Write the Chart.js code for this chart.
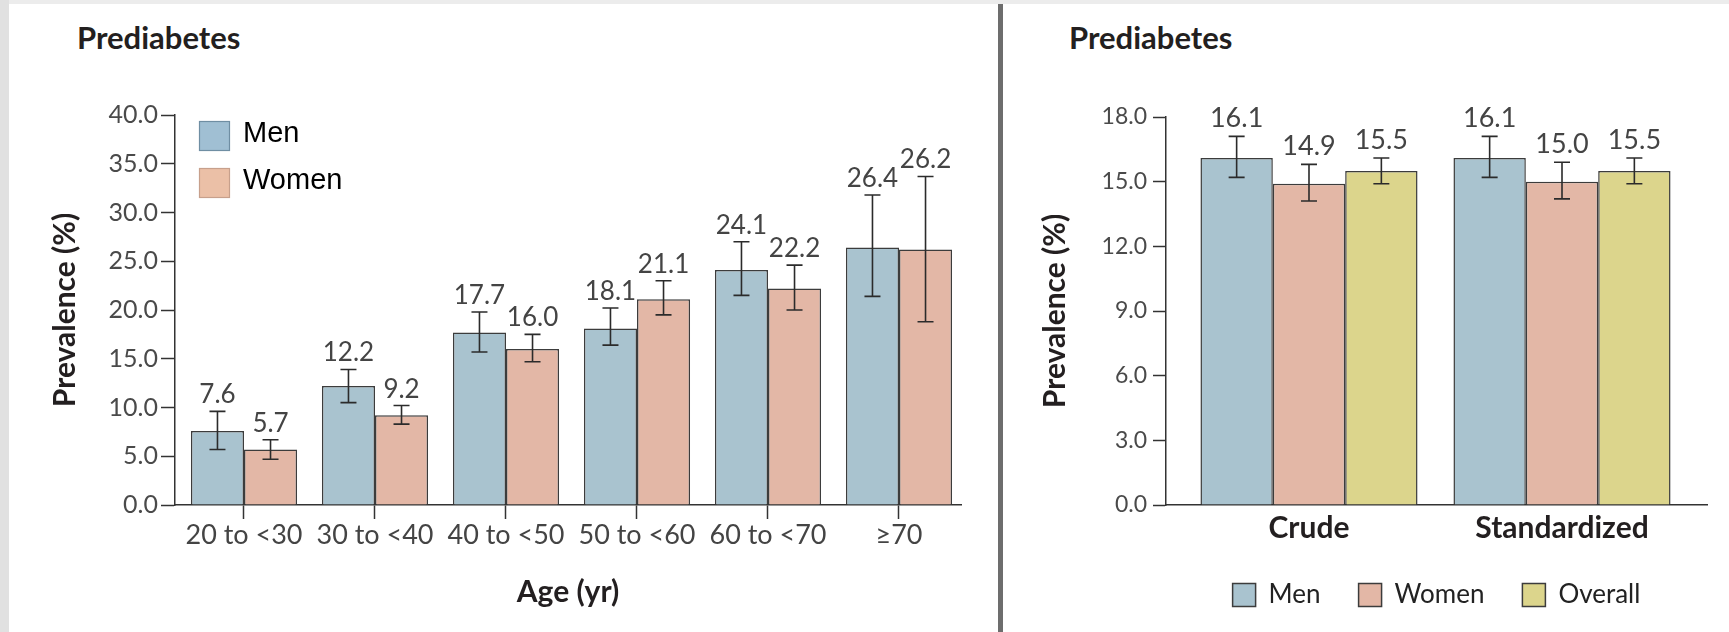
<!DOCTYPE html>
<html>
<head>
<meta charset="utf-8">
<title>Prediabetes prevalence</title>
<script src="https://cdn.jsdelivr.net/npm/chart.js@4.4.1/dist/chart.umd.min.js"></script>
<style>
  html, body { margin: 0; padding: 0; background: #fff; }
  #page { position: relative; width: 1729px; height: 632px; overflow: hidden; background: #fff; }
  .band-top { position: absolute; left: 0; top: 0; width: 1729px; height: 4px; background: #ececec; }
  .band-left { position: absolute; left: 0; top: 0; width: 9px; height: 632px; background: #e1e1e1; }
  .divider { position: absolute; left: 998px; top: 4px; width: 5px; height: 628px; background: #6d6d6d; }
  .panel-title { position: absolute; top: 22px; font: bold 31px Lato, "Open Sans", sans-serif; line-height: 31px; color: #231f20; white-space: nowrap; }
  canvas { position: absolute; top: 0; }
  #ageChart { left: 0; }
  #summaryChart { left: 1004px; }
</style>
</head>
<body>
<div id="page">
  <div class="band-top"></div>
  <div class="band-left"></div>
  <div class="divider"></div>
  <div class="panel-title" style="left:77px">Prediabetes</div>
  <div class="panel-title" style="left:1069px">Prediabetes</div>
  <canvas id="ageChart" width="996" height="632"></canvas>
  <canvas id="summaryChart" width="725" height="632"></canvas>
</div>
<script>
// ---- Age-specific prevalence (%), with 95% confidence limits ----
const ageGroups = ['20 to <30', '30 to <40', '40 to <50', '50 to <60', '60 to <70', '\u226570'];
const menPrev   = [7.6, 12.2, 17.7, 18.1, 24.1, 26.4];
const menLow    = [5.7, 10.5, 15.7, 16.4, 21.5, 21.4];
const menHigh   = [9.6, 13.9, 19.8, 20.2, 27.0, 31.8];
const womenPrev = [5.7, 9.2, 16.0, 21.1, 22.2, 26.2];
const womenLow  = [4.7, 8.3, 14.7, 19.5, 20.0, 18.8];
const womenHigh = [6.7, 10.2, 17.5, 23.0, 24.6, 33.7];
const ageTicks  = [0, 5, 10, 15, 20, 25, 30, 35, 40];

// ---- Crude and age-standardized prevalence (%) ----
const rateTypes    = ['Crude', 'Standardized'];
const allMen       = [16.1, 16.1];
const allMenLow    = [15.2, 15.2];
const allMenHigh   = [17.1, 17.1];
const allWomen     = [14.9, 15.0];
const allWomenLow  = [14.1, 14.2];
const allWomenHigh = [15.8, 15.9];
const overall      = [15.5, 15.5];
const overallLow   = [14.9, 14.9];
const overallHigh  = [16.1, 16.1];
const summaryTicks = [0, 3, 6, 9, 12, 15, 18];

const MEN_FILL = '#a9c3cf';
const WOMEN_FILL = '#e3b7a6';
const OVERALL_FILL = '#dcd58c';
const BAR_EDGE = '#3c3c3c';
const AXIS = '#333333';

Chart.defaults.font.family = 'Lato, "Open Sans", sans-serif';
Chart.defaults.color = '#444';
Chart.defaults.animation = false;

const points = arr => arr.map((v, i) => ({ x: i, y: v }));

// Confidence-interval whiskers with the point estimate written above them
const errorBars = {
  id: 'errorBars',
  afterDatasetsDraw(chart, _args, opts) {
    const { ctx } = chart;
    const yScale = chart.scales.y;
    ctx.save();
    chart.data.datasets.forEach((ds, di) => {
      const meta = chart.getDatasetMeta(di);
      meta.data.forEach((bar, i) => {
        const x = bar.x;
        const top = yScale.getPixelForValue(ds.high[i]);
        const bottom = yScale.getPixelForValue(ds.low[i]);
        const half = opts.capWidth / 2;
        ctx.strokeStyle = opts.color;
        ctx.lineWidth = opts.lineWidth;
        ctx.beginPath();
        ctx.moveTo(x, top); ctx.lineTo(x, bottom);
        ctx.moveTo(x - half, top); ctx.lineTo(x + half, top);
        ctx.moveTo(x - half, bottom); ctx.lineTo(x + half, bottom);
        ctx.stroke();
        ctx.fillStyle = opts.labelColor;
        ctx.font = opts.labelFont;
        ctx.textAlign = 'center';
        ctx.textBaseline = 'alphabetic';
        ctx.fillText(ds.data[i].y.toFixed(1), x, top - opts.labelGap);
      });
    });
    ctx.restore();
  }
};

// Small key in the upper-left corner of the plotting area
const cornerLegend = {
  id: 'cornerLegend',
  afterDraw(chart, _args, o) {
    const { ctx, chartArea } = chart;
    ctx.save();
    chart.data.datasets.forEach((ds, i) => {
      const x = chartArea.left + o.left;
      const y = chartArea.top + o.top + i * o.rowStep;
      ctx.fillStyle = o.fills[i];
      ctx.fillRect(x, y, o.boxW, o.boxH);
      ctx.strokeStyle = o.strokes[i];
      ctx.lineWidth = 1.2;
      ctx.strokeRect(x + 0.5, y + 0.5, o.boxW - 1, o.boxH - 1);
      ctx.fillStyle = o.color;
      ctx.font = o.font;
      ctx.textAlign = 'left';
      ctx.textBaseline = 'middle';
      ctx.fillText(ds.label, x + o.boxW + o.textGap, y + o.boxH / 2 - 2);
    });
    ctx.restore();
  }
};

const barStyle = { borderColor: BAR_EDGE, borderWidth: 1.5, categoryPercentage: 0.81, barPercentage: 1.0 };

new Chart(document.getElementById('ageChart'), {
  type: 'bar',
  data: {
    datasets: [
      Object.assign({ label: 'Men', data: points(menPrev), low: menLow, high: menHigh, backgroundColor: MEN_FILL }, barStyle),
      Object.assign({ label: 'Women', data: points(womenPrev), low: womenLow, high: womenHigh, backgroundColor: WOMEN_FILL }, barStyle)
    ]
  },
  options: {
    responsive: false,
    layout: { padding: { left: 47, right: 35, top: 115, bottom: 21 } },
    scales: {
      x: {
        type: 'linear',
        min: -0.5267, max: 5.4733,
        offset: false,
        afterBuildTicks: s => { s.ticks = ageGroups.map((_, i) => ({ value: i })); },
        afterFit: s => { s.height = 106; },
        ticks: {
          autoSkip: false, maxRotation: 0, padding: 0,
          font: { size: 27 }, color: '#444',
          callback: v => ageGroups[v]
        },
        grid: { drawOnChartArea: false, offset: false, tickLength: 14, tickColor: AXIS, tickWidth: 1.5 },
        border: { color: AXIS, width: 1.5 },
        title: { display: true, text: 'Age (yr)', color: '#231f20', font: { size: 30, weight: 'bold' }, padding: { top: 0, bottom: 1 } }
      },
      y: {
        min: 0, max: 40,
        afterBuildTicks: s => { s.ticks = ageTicks.map(v => ({ value: v })); },
        afterFit: s => { s.width = 128; },
        ticks: { padding: 3, font: { size: 25 }, color: '#4a4a4a', callback: v => v.toFixed(1) },
        grid: { drawOnChartArea: false, tickLength: 14, tickColor: AXIS, tickWidth: 1.5 },
        border: { color: AXIS, width: 1.5 },
        title: { display: true, text: 'Prevalence (%)', color: '#231f20', font: { size: 30, weight: 'bold' }, padding: { top: 0, bottom: 0 } }
      }
    },
    plugins: {
      legend: { display: false },
      tooltip: { enabled: false },
      errorBars: { capWidth: 16, lineWidth: 1.6, color: '#2b2b2b', labelGap: 8, labelColor: '#444', labelFont: '26px Lato, "Open Sans", sans-serif' },
      cornerLegend: {
        left: 24, top: 6, rowStep: 47, boxW: 31, boxH: 30, textGap: 13,
        fills: ['#a0bfd3', '#ebc0a7'], strokes: ['#6f8ea3', '#c7a08c'],
        color: '#000', font: '29px "Liberation Sans", Arial, sans-serif'
      }
    }
  },
  plugins: [errorBars, cornerLegend]
});

const sumStyle = { borderColor: BAR_EDGE, borderWidth: 1.5, categoryPercentage: 0.858, barPercentage: 1.0 };

new Chart(document.getElementById('summaryChart'), {
  type: 'bar',
  data: {
    datasets: [
      Object.assign({ label: 'Men', data: points(allMen), low: allMenLow, high: allMenHigh, backgroundColor: MEN_FILL }, sumStyle),
      Object.assign({ label: 'Women', data: points(allWomen), low: allWomenLow, high: allWomenHigh, backgroundColor: WOMEN_FILL }, sumStyle),
      Object.assign({ label: 'Overall', data: points(overall), low: overallLow, high: overallHigh, backgroundColor: OVERALL_FILL }, sumStyle)
    ]
  },
  options: {
    responsive: false,
    layout: { padding: { left: 33, right: 22, top: 117, bottom: 14 } },
    scales: {
      x: {
        type: 'linear',
        min: -0.5652, max: 1.5731,
        offset: false,
        afterBuildTicks: s => { s.ticks = rateTypes.map((_, i) => ({ value: i })); },
        afterFit: s => { s.height = 39; },
        ticks: {
          autoSkip: false, maxRotation: 0, padding: 5,
          font: { size: 30, weight: 'bold' }, color: '#231f20',
          callback: v => rateTypes[v]
        },
        grid: { display: false, drawTicks: false, drawOnChartArea: false },
        border: { color: AXIS, width: 1.5 }
      },
      y: {
        min: 0, max: 18,
        afterBuildTicks: s => { s.ticks = summaryTicks.map(v => ({ value: v })); },
        afterFit: s => { s.width = 129; },
        ticks: { padding: 6, font: { size: 23 }, color: '#4a4a4a', callback: v => v.toFixed(1) },
        grid: { drawOnChartArea: false, tickLength: 13, tickColor: AXIS, tickWidth: 1.5 },
        border: { color: AXIS, width: 1.5 },
        title: { display: true, text: 'Prevalence (%)', color: '#231f20', font: { size: 30, weight: 'bold' }, padding: { top: 0, bottom: 0 } }
      }
    },
    plugins: {
      legend: {
        position: 'bottom',
        fullSize: false,
        labels: { boxWidth: 23, boxHeight: 23, padding: 38, color: '#222', font: { size: 26 } }
      },
      tooltip: { enabled: false },
      errorBars: { capWidth: 16, lineWidth: 1.6, color: '#2b2b2b', labelGap: 9, labelColor: '#444', labelFont: '27px Lato, "Open Sans", sans-serif' }
    }
  },
  plugins: [errorBars]
});
</script>
</body>
</html>
